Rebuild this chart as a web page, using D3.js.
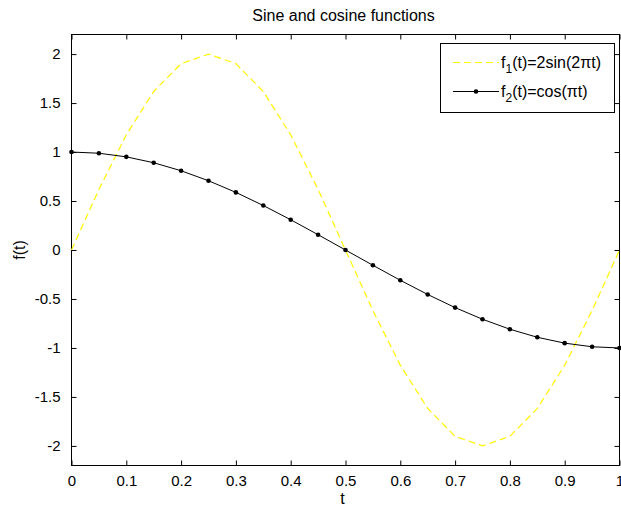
<!DOCTYPE html>
<html><head><meta charset="utf-8">
<script src="https://cdn.jsdelivr.net/npm/d3@7"></script>
<style>body{margin:0;background:#fff}svg{display:block}text{font-family:"Liberation Sans",Arial,sans-serif;fill:#000}</style>
</head><body><svg id="c" width="621" height="511"></svg>
<script>
const tValues = [0,0.05,0.1,0.15,0.2,0.25,0.3,0.35,0.4,0.45,0.5,0.55,0.6,0.65,0.7,0.75,0.8,0.85,0.9,0.95,1];
const sineValues = [0,0.618,1.176,1.618,1.902,2,1.902,1.618,1.176,0.618,0,-0.618,-1.176,-1.618,-1.902,-2,-1.902,-1.618,-1.176,-0.618,0];
const cosValues = [1,0.988,0.951,0.891,0.809,0.707,0.588,0.454,0.309,0.156,0,-0.156,-0.309,-0.454,-0.588,-0.707,-0.809,-0.891,-0.951,-0.988,-1];
const xTicks = [0,0.1,0.2,0.3,0.4,0.5,0.6,0.7,0.8,0.9,1];
const yTicks = [-2,-1.5,-1,-0.5,0,0.5,1,1.5,2];
const titleText = "Sine and cosine functions";

const L=71.5,R=619.5,T=34.5,B=465.5;
const svg=d3.select("#c");
const x=d3.scaleLinear().domain([0,1]).range([L,R]);
const y=d3.scaleLinear().domain([-2.2,2.2]).range([B,T]);
const fs=15, fsBig=16;

// axes
const ax=svg.append("g").attr("font-size",fs);
ax.append("g").attr("transform",`translate(0,${B})`).call(d3.axisBottom(x).tickValues(xTicks).tickSizeInner(-5).tickSizeOuter(0).tickPadding(10).tickFormat(d=>String(d)));
ax.append("g").attr("transform",`translate(0,${T})`).call(d3.axisTop(x).tickValues(xTicks).tickSizeInner(-5).tickSizeOuter(0).tickFormat(""));
ax.append("g").attr("transform",`translate(${L},0)`).call(d3.axisLeft(y).tickValues(yTicks).tickSizeInner(-5).tickSizeOuter(0).tickPadding(11).tickFormat(d=>String(d)));
ax.append("g").attr("transform",`translate(${R},0)`).call(d3.axisRight(y).tickValues(yTicks).tickSizeInner(-5).tickSizeOuter(0).tickFormat(""));
ax.selectAll(".domain").remove();
ax.selectAll("text").attr("font-family","Liberation Sans, Arial, sans-serif").attr("fill","#000").attr("font-size",fs);
ax.selectAll("line").attr("stroke","#000");
svg.append("rect").attr("x",L).attr("y",T).attr("width",R-L).attr("height",B-T).attr("fill","none").attr("stroke","#000");

// lines
const pts=tValues.map((t,i)=>({t,s:sineValues[i],c:cosValues[i]}));
svg.append("path").datum(pts).attr("fill","none").attr("stroke","#ffff00").attr("stroke-width",1.2).attr("stroke-dasharray","7,4")
  .attr("d",d3.line().x(d=>x(d.t)).y(d=>y(d.s)));
svg.append("path").datum(pts).attr("fill","none").attr("stroke","#000").attr("stroke-width",1)
  .attr("d",d3.line().x(d=>x(d.t)).y(d=>y(d.c)));
svg.append("g").selectAll("circle").data(pts).join("circle").attr("cx",d=>x(d.t)).attr("cy",d=>y(d.c)).attr("r",2.3).attr("fill","#000");

// title & labels
svg.append("text").attr("x",(L+R)/2-2).attr("y",21).attr("text-anchor","middle").attr("font-size",fsBig).text(titleText);
svg.append("text").attr("x",(L+R)/2-3).attr("y",504).attr("text-anchor","middle").attr("font-size",fsBig).text("t");
svg.append("text").attr("transform",`translate(25,${(T+B)/2}) rotate(-90)`).attr("text-anchor","middle").attr("font-size",fsBig).text("f(t)");

// legend
const lg=svg.append("g");
lg.append("rect").attr("x",440.5).attr("y",43.5).attr("width",174).attr("height",69).attr("fill","#fff").attr("stroke","#000");
const legendItems=[{sub:"1",rest:"(t)=2sin(2\u03c0t)",y:62.5,color:"#ffff00",dash:"7,4",marker:false},
                   {sub:"2",rest:"(t)=cos(\u03c0t)",y:91.5,color:"#000",dash:null,marker:true}];
legendItems.forEach(it=>{
  lg.append("line").attr("x1",453).attr("x2",499).attr("y1",it.y).attr("y2",it.y).attr("stroke",it.color).attr("stroke-width",it.marker?1:1.2).attr("stroke-dasharray",it.dash);
  if(it.marker) lg.append("circle").attr("cx",476).attr("cy",it.y).attr("r",2.3).attr("fill","#000");
  const t=lg.append("text").attr("x",501).attr("y",it.y+5).attr("font-size",fsBig);
  t.append("tspan").text("f");
  t.append("tspan").attr("font-size",12).attr("dy",5).text(it.sub);
  t.append("tspan").attr("dy",-5).text(it.rest);
});
</script></body></html>
